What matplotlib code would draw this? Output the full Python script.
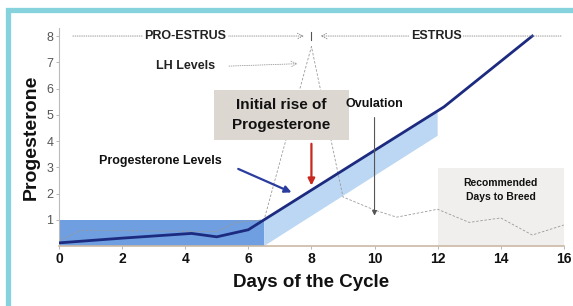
import matplotlib.pyplot as plt
from matplotlib.patches import Rectangle, Polygon

plt.rcParams['font.family'] = ['Liberation Sans', 'DejaVu Sans']

# progesterone curve (days, level)
prog_days = [0, 2, 4.2, 5.0, 6.0, 6.5, 12.2, 15.0]
prog_vals = [0.12, 0.3, 0.48, 0.35, 0.62, 1.0, 5.3, 8.0]

# LH curve (dashed, faint)
lh_days = [0, 0.7, 5.0, 5.6, 6.5, 8.0, 9.0, 10.0, 10.7, 12.0, 13.0, 14.0, 15.0, 16.0]
lh_vals = [0.2, 0.6, 0.55, 0.9, 1.0, 7.6, 1.87, 1.37, 1.1, 1.4, 0.9, 1.07, 0.42, 0.8]

x_ticks = [0, 2, 4, 6, 8, 10, 12, 14, 16]
y_ticks = [1, 2, 3, 4, 5, 6, 7, 8]

fig = plt.figure(figsize=(5.73, 3.06), dpi=100)
ax = fig.add_axes([0.103, 0.196, 0.881, 0.712])
ax.set_xlim(0, 16)
ax.set_ylim(0, 8.3)

# shaded regions
ax.add_patch(Rectangle((0, 0), 6.5, 1.0, facecolor='#6f9fe0', edgecolor='none', zorder=1))
ax.add_patch(Polygon([(6.5, 0), (6.5, 1.0), (12.0, 5.15), (12.0, 4.2)],
                     closed=True, facecolor='#bcd7f3', edgecolor='none', zorder=1))
ax.add_patch(Rectangle((12, 0), 4, 2.97, facecolor='#f1efed', edgecolor='none', zorder=0))

ax.plot(lh_days, lh_vals, color='#9a9a9a', lw=0.6, ls=(0, (3, 2)), zorder=2)
ax.plot(prog_days, prog_vals, color='#1c2b80', lw=2.0, zorder=3)

# phase markers along the top
ax.annotate('', xy=(7.85, 8), xytext=(0.35, 8),
            arrowprops=dict(arrowstyle='->', color='#888888', lw=0.6, ls=':'))
ax.annotate('', xy=(8.2, 8), xytext=(16, 8),
            arrowprops=dict(arrowstyle='->', color='#888888', lw=0.6, ls=':'))
ax.plot([8, 8], [7.85, 8.15], color='#555555', lw=0.8)
ax.text(4.0, 8, 'PRO-ESTRUS', ha='center', va='center', fontsize=9, fontweight='bold',
        color='#222222', bbox=dict(facecolor='white', edgecolor='none', pad=1))
ax.text(11.95, 8, 'ESTRUS', ha='center', va='center', fontsize=9, fontweight='bold',
        color='#222222', bbox=dict(facecolor='white', edgecolor='none', pad=1))

# LH label
ax.text(4.0, 6.85, 'LH Levels', ha='center', va='center', fontsize=9, fontweight='bold',
        color='#222222')
ax.annotate('', xy=(7.65, 6.95), xytext=(5.3, 6.85),
            arrowprops=dict(arrowstyle='->', color='#999999', lw=0.6, ls=':'))

# initial rise box
ax.add_patch(Rectangle((4.9, 4.05), 4.3, 1.9, facecolor='#ddd7d2', edgecolor='none', zorder=2))
ax.text(7.05, 5.0, 'Initial rise of\nProgesterone', ha='center', va='center', fontsize=11,
        fontweight='bold', color='#111111', linespacing=1.5, zorder=4)
ax.annotate('', xy=(8, 2.2), xytext=(8, 4.0),
            arrowprops=dict(arrowstyle='-|>', color='#c8281e', lw=1.6, mutation_scale=10), zorder=4)

# ovulation
ax.text(10.0, 5.4, 'Ovulation', ha='center', va='center', fontsize=9, fontweight='bold',
        color='#111111')
ax.annotate('', xy=(10, 1.05), xytext=(10, 5.0),
            arrowprops=dict(arrowstyle='-|>', color='#555555', lw=0.8, mutation_scale=7), zorder=4)

# progesterone label
ax.text(3.2, 3.25, 'Progesterone Levels', ha='center', va='center', fontsize=9,
        fontweight='bold', color='#111111')
ax.annotate('', xy=(7.45, 2.0), xytext=(5.6, 2.98),
            arrowprops=dict(arrowstyle='-|>', color='#2a3c9e', lw=1.6, mutation_scale=10), zorder=4)

ax.text(14.0, 2.15, 'Recommended\nDays to Breed', ha='center', va='center', fontsize=7.5,
        fontweight='bold', color='#111111', linespacing=1.5)

ax.set_xticks(x_ticks)
ax.set_xticklabels([str(t) for t in x_ticks], fontweight='bold', fontsize=10, color='#111111')
ax.set_yticks(y_ticks)
ax.set_yticklabels([str(t) for t in y_ticks], fontsize=9, color='#555555')
ax.tick_params(axis='both', length=2, width=0.6, color='#aaaaaa', pad=2)
for s in ['top', 'right']:
    ax.spines[s].set_visible(False)
ax.spines['left'].set_color('#bbbbbb')
ax.spines['bottom'].set_color('#cbb9a4')
ax.spines['bottom'].set_linewidth(1.2)

ax.set_xlabel('Days of the Cycle', fontsize=13.5, fontweight='bold', color='#111111', labelpad=6)
ax.set_ylabel('Progesterone', fontsize=14, fontweight='bold', color='#111111', labelpad=5)

# teal frame (cropped on right and bottom)
fig.patches.append(Rectangle((7.5 / 573, -1), 2, 1 - 9.5 / 306 + 1, transform=fig.transFigure,
                             fill=False, edgecolor='#86d3dd', lw=3.8))

fig.savefig('out.png', dpi=100)
